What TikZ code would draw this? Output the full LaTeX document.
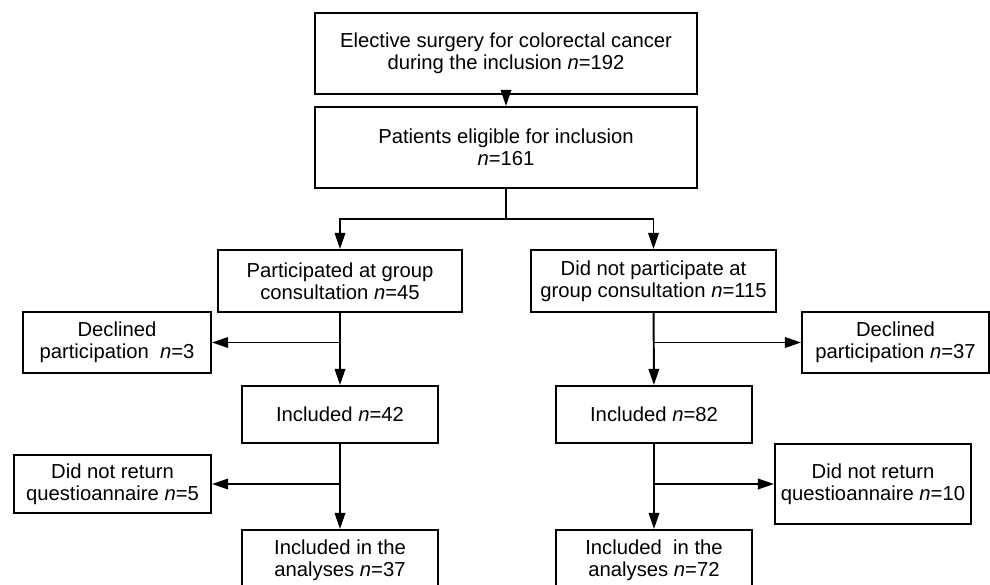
\documentclass[tikz,border=0pt]{standalone}
\usepackage{fontspec}
\setmainfont{Liberation Sans}
\usepackage{tikz}
\usetikzlibrary{calc}
\usetikzlibrary{arrows.meta}

\begin{document}
\begin{tikzpicture}[x=0.025cm, y=-0.025cm,
        box/.style={draw, line width=1.4pt, align=center, inner sep=0pt, font=\fontsize{14.4}{15.6}\selectfont},
        arr/.style={line width=1.4pt, -{Triangle[length=11.5pt, width=7.5pt]}}]
        %FRAME
        \useasboundingbox (0,0) rectangle (990,584);
        \clip (0,0) rectangle (990,584);

        %KOTAK ATAS
        \node[box, minimum width=9.55cm, minimum height=2.025cm] (elect) at (506,53.5) {Elective surgery for colorectal cancer\\during the inclusion \textit{n}=192};
        \node[box, minimum width=9.55cm, minimum height=2.025cm] (elig) at (506,147.5) {Patients eligible for inclusion\\\textit{n}=161};

        %KOTAK KIRI
        \node[box, minimum width=6.1cm, minimum height=1.55cm] (part) at (340,281) {Participated at group\\consultation \textit{n}=45};
        \node[box, minimum width=4.7cm, minimum height=1.525cm] (declL) at (117,342.5) {Declined\\participation\ \ \textit{n}=3};
        \node[box, minimum width=4.9cm, minimum height=1.425cm] (inclL) at (340,414.5) {Included \textit{n}=42};
        \node[box, minimum width=4.925cm, minimum height=1.45cm] (retL) at (112.5,484) {Did not return\\questioannaire \textit{n}=5};
        \node[box, minimum width=4.9cm, minimum height=1.5cm] (anaL) at (340,560) {Included in the\\analyses \textit{n}=37};

        %KOTAK KANAN
        \node[box, minimum width=6.125cm, minimum height=1.55cm] (nopart) at (653.5,281) {Did not participate at\\group consultation \textit{n}=115};
        \node[box, minimum width=4.675cm, minimum height=1.525cm] (declR) at (895.5,342.5) {Declined\\participation \textit{n}=37};
        \node[box, minimum width=4.9cm, minimum height=1.425cm] (inclR) at (654,414.5) {Included \textit{n}=82};
        \node[box, minimum width=4.9cm, minimum height=2cm] (retR) at (873,484) {Did not return\\questioannaire \textit{n}=10};
        \node[box, minimum width=4.9cm, minimum height=1.5cm] (anaR) at (654,560) {Included\ \ in the\\analyses \textit{n}=72};

        %PANAH
        \coordinate (split) at (506,219);
        \draw[arr] (elect) -- (elig);
        \draw[line width=1.4pt] (elig.south) -- (split);
        \draw[arr] (split) -| (part.north);
        \draw[arr] (split) -| (nopart.north);

        \draw[arr] (part) -- (inclL);
        \draw[arr] (part.south |- declL.east) -- (declL.east);
        \draw[arr] (inclL) -- (anaL);
        \draw[arr] (inclL.south |- retL.east) -- (retL.east);

        \draw[arr] (nopart) -- (inclR);
        \draw[arr] (nopart.south |- declR.west) -- (declR.west);
        \draw[arr] (inclR) -- (anaR);
        \draw[arr] (inclR.south |- retR.west) -- (retR.west);
    \end{tikzpicture}
\end{document}
